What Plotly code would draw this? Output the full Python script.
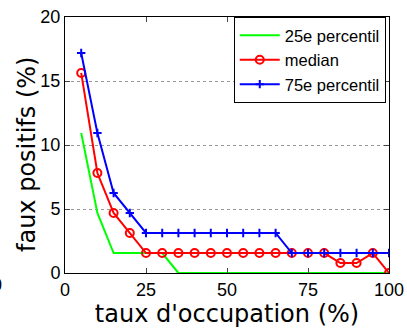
import plotly.graph_objects as go

occupation = [5, 10, 15, 20, 25, 30, 35, 40, 45, 50, 55, 60, 65, 70, 75, 80, 85, 90, 95, 100]
p25 = [10.94, 4.69, 1.56, 1.56, 1.56, 1.56, 0, 0, 0, 0, 0, 0, 0, 0, 0, 0, 0, 0, 0, 0]
median = [15.63, 7.81, 4.69, 3.13, 1.56, 1.56, 1.56, 1.56, 1.56, 1.56, 1.56, 1.56, 1.56, 1.56,
          1.56, 1.56, 0.78, 0.78, 1.56, 0]
p75 = [17.19, 10.94, 6.25, 4.69, 3.13, 3.13, 3.13, 3.13, 3.13, 3.13, 3.13, 3.13, 3.13, 1.56,
       1.56, 1.56, 1.56, 1.56, 1.56, 1.56]

fig = go.Figure()
fig.add_trace(go.Scatter(x=occupation, y=p25, name="25e percentil", mode="lines",
                         line=dict(color="#00ff00", width=2)))
fig.add_trace(go.Scatter(x=occupation, y=median, name="median", mode="lines+markers",
                         line=dict(color="#ff0000", width=2),
                         marker=dict(symbol="circle-open", size=8, color="#ff0000",
                                     line=dict(width=2, color="#ff0000"))))
fig.add_trace(go.Scatter(x=occupation, y=p75, name="75e percentil", mode="lines+markers",
                         line=dict(color="#0000ff", width=2),
                         marker=dict(symbol="cross-thin", size=6, color="#0000ff",
                                     line=dict(width=2, color="#0000ff"))))

tickfont = dict(family="Liberation Sans", size=18, color="black")
titlefont = dict(family="DejaVu Sans", size=24, color="black")

fig.update_xaxes(range=[0, 100], tickvals=[0, 25, 50, 75, 100], ticks="inside", ticklen=5,
                 showline=True, linecolor="black", linewidth=1, mirror="ticks",
                 showgrid=False, zeroline=False, tickfont=tickfont, automargin=False,
                 title=dict(text="taux d'occupation (%)", font=titlefont, standoff=5))
fig.update_yaxes(range=[0, 20], tickvals=[0, 5, 10, 15, 20], ticks="inside", ticklen=5,
                 showline=True, linecolor="black", linewidth=1, mirror="ticks",
                 showgrid=True, gridcolor="#999999", griddash="dot", gridwidth=1,
                 zeroline=False, tickfont=tickfont, automargin=False)

# y title placed a little below the axis centre, as in the original
fig.add_annotation(text="faux positifs (%)", xref="paper", yref="paper",
                   x=-38 / 324, y=(273 - 155) / 256, textangle=-90,
                   xanchor="center", yanchor="middle", showarrow=False, font=titlefont)

# stray tick label clipped at the left edge
fig.add_annotation(text="0", xref="paper", yref="paper", x=-68 / 324, y=-12 / 256,
                   xanchor="center", yanchor="middle", showarrow=False, font=tickfont)

fig.update_layout(
    width=407, height=332,
    margin=dict(l=65, r=18, t=17, b=59),
    plot_bgcolor="white", paper_bgcolor="white",
    legend=dict(x=0.99, y=1.0, xanchor="right", yanchor="top",
                bordercolor="black", borderwidth=1, bgcolor="white",
                font=dict(family="Liberation Sans", size=16.5, color="black"),
                tracegroupgap=0, itemwidth=40),
)

fig.write_html("out.html", config={"displayModeBar": False},
               post_script="document.body.style.margin='0';")
